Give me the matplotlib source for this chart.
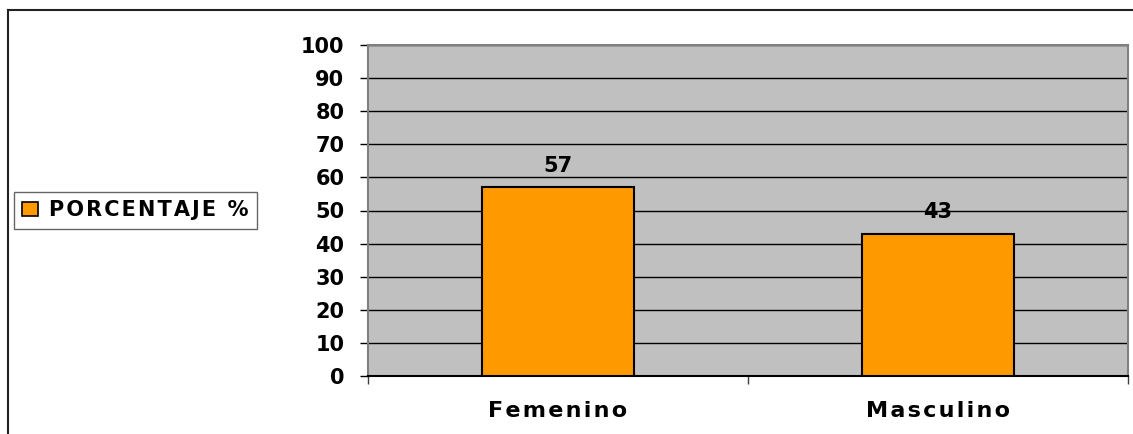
import matplotlib.pyplot as plt
from matplotlib.patches import Patch
from matplotlib.lines import Line2D

categorias = ["Femenino", "Masculino"]
porcentajes = [57, 43]
serie = "PORCENTAJE %"
y_ticks = list(range(0, 101, 10))


def spaced(s, sep="\u200a"):
    # wide letter spacing like the original chart
    return sep.join(s)


plt.rcParams['font.family'] = ['DejaVu Sans']
plt.rcParams['font.weight'] = 'bold'

W, H = 1133, 434
fig = plt.figure(figsize=(W / 100, H / 100), dpi=100)
ax = fig.add_axes([368 / W, (H - 376) / H, 760 / W, 331 / H])
ax.set_facecolor('#C0C0C0')

x = list(range(len(categorias)))
ax.bar(x, porcentajes, width=0.4, color='#FF9900', edgecolor='black',
       linewidth=1.5, zorder=3)

for xi, v in zip(x, porcentajes):
    ax.annotate(str(v), (xi, v), xytext=(0, 11), textcoords='offset points',
                ha='center', va='baseline', fontsize=15, fontweight='bold')

ax.set_xlim(-0.5, len(categorias) - 0.5)
ax.set_ylim(0, 100)
ax.set_yticks(y_ticks)
ax.yaxis.grid(True, color='black', linewidth=1)
ax.set_axisbelow(True)

ax.set_xticks(x)
ax.set_xticklabels([spaced(c) for c in categorias], fontsize=16, fontweight='bold')
ax.set_xticks([i - 0.5 for i in range(len(categorias) + 1)], minor=True)
ax.tick_params(axis='x', which='major', length=0, pad=18)
ax.tick_params(axis='x', which='minor', length=6, width=1, color='#404040', direction='out')
ax.tick_params(axis='y', length=6, width=1, color='black', pad=11, labelsize=15)

for s in ['top', 'right', 'left']:
    ax.spines[s].set_color('#808080')
    ax.spines[s].set_linewidth(1.5)
ax.spines['bottom'].set_color('black')
ax.spines['bottom'].set_linewidth(1.5)

handles = [Patch(facecolor='#FF9900', edgecolor='black', linewidth=1.2)]
leg = fig.legend(handles, [spaced(serie)], loc='center left',
                 bbox_to_anchor=(14 / W, 1 - 210.5 / H), borderaxespad=0,
                 frameon=True, fancybox=False, edgecolor='#404040',
                 handlelength=0.75, handleheight=0.65, handletextpad=0.55,
                 borderpad=0.4, prop={'weight': 'bold', 'size': 15})
leg.get_frame().set_linewidth(1)

# chart outer border
fig.add_artist(Line2D([8 / W, 1], [1 - 10 / H, 1 - 10 / H], color='#222222', linewidth=1.5))
fig.add_artist(Line2D([8 / W, 8 / W], [0, 1 - 10 / H], color='#222222', linewidth=1.5))

fig.savefig('out.png', dpi=100)
